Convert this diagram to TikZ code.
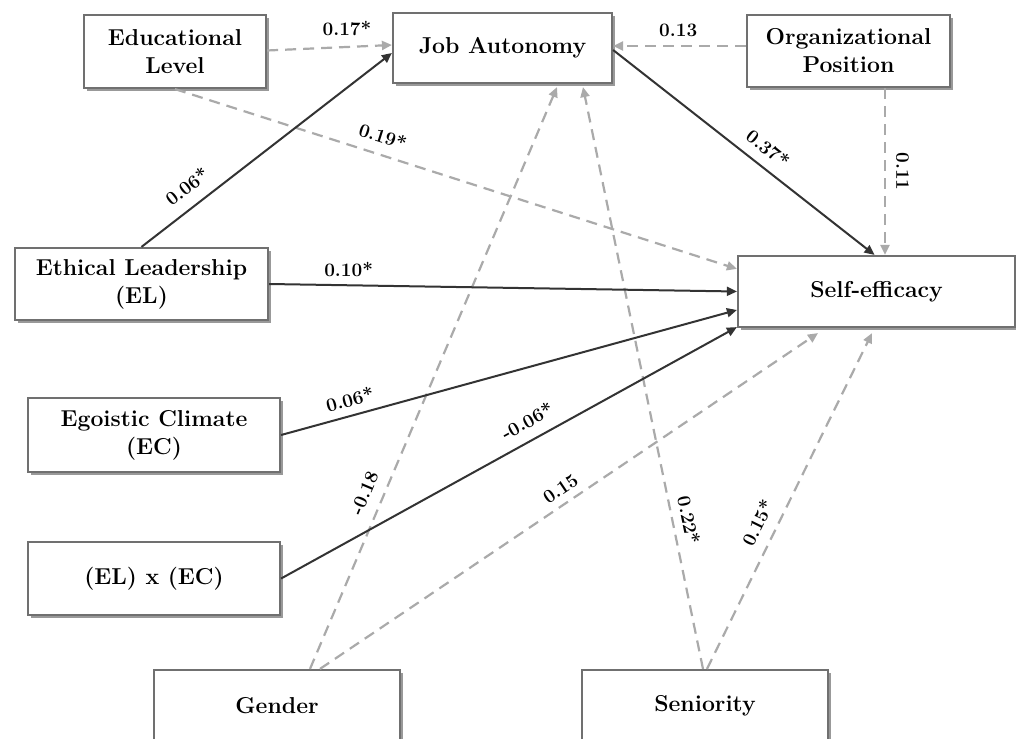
\documentclass[tikz,border=0pt]{standalone}
\usepackage{fontspec}
\usetikzlibrary{arrows.meta,shadows,calc}
\definecolor{boxgray}{RGB}{112,112,112}
\definecolor{solidc}{RGB}{51,51,51}
\definecolor{dashc}{RGB}{170,170,170}
\begin{document}
\begin{tikzpicture}[x=1pt,y=-1pt,
  box/.style={draw=boxgray, line width=2.2pt, fill=white, align=center,
    font=\fontsize{23}{28}\selectfont\bfseries, inner sep=0pt,
    drop shadow={shadow xshift=3pt, shadow yshift=-3pt, fill=black, opacity=0.4}},
  sol/.style={draw=solidc, line width=2pt, -{Triangle[length=10pt,width=9pt]}},
  das/.style={draw=dashc, line width=2.2pt, dash pattern=on 11pt off 7pt, -{Triangle[length=10pt,width=9pt]}},
  lab/.style={font=\fontsize{19}{21}\selectfont\bfseries, text=black, inner sep=2pt}
]
\clip (0,0) rectangle (1016,738);
\fill[white] (0,0) rectangle (1016,738);

\node[box, minimum width=182pt, minimum height=73pt] (edu) at (175,51.5) {Educational\\Level};
\node[box, minimum width=219pt, minimum height=70pt] (ja) at (502.5,48) {Job Autonomy};
\node[box, minimum width=203pt, minimum height=72pt] (org) at (848.5,51) {Organizational\\Position};
\node[box, minimum width=277pt, minimum height=71pt] (se) at (876.5,291.5) {Self-efficacy};
\node[box, minimum width=253pt, minimum height=72pt] (el) at (141.5,284) {Ethical Leadership\\(EL)};
\node[box, minimum width=252pt, minimum height=74pt] (ec) at (154,435) {Egoistic Climate\\(EC)};
\node[box, minimum width=252pt, minimum height=73pt] (elec) at (154,578.5) {(EL) x (EC)};
\node[box, minimum width=246pt, minimum height=72pt] (gen) at (277,706) {Gender};
\node[box, minimum width=246pt, minimum height=72pt] (sen) at (705,706) {Seniority};

% dashed paths
\draw[das] ([yshift=1pt]edu.east) -- node[lab, pos=0.64, above=8pt]{0.17*} ([yshift=3pt]ja.west);
\draw[das] ([yshift=5pt]org.west) -- node[lab, pos=0.51, above=6pt]{0.13} ([yshift=2pt]ja.east);
\draw[das] (edu.south) -- node[lab, sloped, pos=0.36, above=8pt]{0.19*} ([yshift=-14pt]se.north west);
\draw[das] ([xshift=36.5pt]org.south) -- node[lab, sloped, pos=0.5, above=8pt]{0.11} ([xshift=8.5pt]se.north);
\draw[das] ([xshift=33pt]gen.north) -- node[lab, sloped, pos=0.29, above=9pt]{-0.18} ([xshift=54.5pt,yshift=-3pt]ja.south);
\draw[das] ([xshift=43pt]gen.north) -- node[lab, sloped, pos=0.5, above=5.5pt]{0.15} ([xshift=-58.5pt,yshift=-5pt]se.south);
\draw[das] ([xshift=-2pt]sen.north) -- node[lab, sloped, pos=0.25, above=6pt]{0.22*} ([xshift=80.5pt,yshift=-3pt]ja.south);
\draw[das] ([xshift=2pt]sen.north) -- node[lab, sloped, pos=0.41, above=9pt]{0.15*} ([xshift=-4.5pt,yshift=-5pt]se.south);

% solid paths
\draw[sol] (el.north) -- node[lab, sloped, pos=0.23, above=10pt]{0.06*} ([yshift=-5pt]ja.west);
\draw[sol] ([yshift=-2pt]ja.east) -- node[lab, sloped, pos=0.55, above=8pt]{0.37*} ([xshift=-2pt]se.north);
\draw[sol] (el.east) -- node[lab, pos=0.17, above=6pt]{0.10*} (se.west);
\draw[sol] (ec.east) -- node[lab, sloped, pos=0.16, above=6pt]{0.06*} ([yshift=-18.5pt]se.west);
\draw[sol] (elec.east) -- node[lab, sloped, pos=0.56, above=9pt]{-0.06*} ([yshift=1pt]se.south west);
\end{tikzpicture}
\end{document}
